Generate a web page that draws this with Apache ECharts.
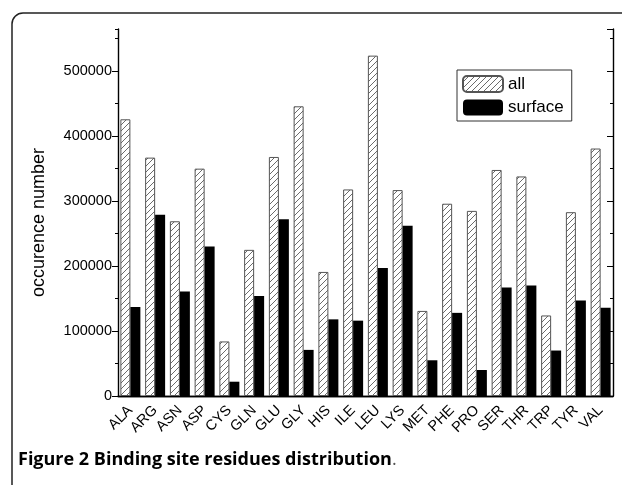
<!DOCTYPE html>
<html>
<head>
<meta charset="utf-8">
<script src="https://cdn.jsdelivr.net/npm/echarts@6/dist/echarts.min.js"></script>
<style>
html,body{margin:0;padding:0;background:#fff;}
#c{width:622px;height:485px;}
</style>
</head>
<body>
<div id="c"></div>
<script>
const categories = ['ALA','ARG','ASN','ASP','CYS','GLN','GLU','GLY','HIS','ILE','LEU','LYS','MET','PHE','PRO','SER','THR','TRP','TYR','VAL'];
const allValues = [426000,367000,269000,350000,84000,225000,368000,446000,191000,318000,524000,317000,131000,296000,285000,348000,338000,124000,283000,381000];
const surfaceValues = [137000,279000,161000,230000,22000,154000,272000,71000,118000,116000,197000,262000,55000,128000,40000,167000,170000,70000,147000,136000];
const yMin = 0, yMax = 565000;
const captionBold = 'Figure 2 Binding site residues distribution';

const pc = document.createElement('canvas');
pc.width = 6; pc.height = 6;
const g = pc.getContext('2d');
g.fillStyle = '#fff'; g.fillRect(0,0,6,6);
g.strokeStyle = '#5a5a5a'; g.lineWidth = 0.9;
g.beginPath();
g.moveTo(-1,7); g.lineTo(7,-1);
g.moveTo(-1,1); g.lineTo(1,-1);
g.moveTo(5,7); g.lineTo(7,5);
g.stroke();

const chart = echarts.init(document.getElementById('c'), null, {renderer:'canvas'});
const font = 'Liberation Sans, Arial, sans-serif';
const gridBox = {left:118, right:9, top:29, bottom:89, containLabel:false};
const axLine = {show:true, lineStyle:{color:'#000', width:1.4}};
const hidden = {show:false};

chart.setOption({
  animation:false,
  backgroundColor:'#fff',
  grid:[Object.assign({}, gridBox), Object.assign({}, gridBox)],
  legend:{
    left:457, top:70, orient:'vertical', itemWidth:40, itemHeight:16, itemGap:6,
    padding:[5,8,5,5], borderColor:'#333', borderWidth:1,
    textStyle:{fontFamily:font, fontSize:17, color:'#000'},
    data:['all','surface']
  },
  xAxis:[
    {type:'category', gridIndex:0, position:'bottom', data:categories,
     axisLine:axLine, axisTick:{alignWithLabel:true, length:6, lineStyle:{color:'#000'}},
     axisLabel:{rotate:45, fontFamily:font, fontSize:14.5, color:'#000', margin:12, interval:0},
     splitLine:hidden},
    {type:'category', gridIndex:0, position:'top', data:categories,
     axisLine:axLine, axisTick:{alignWithLabel:true, inside:true, length:6, lineStyle:{color:'#000'}},
     axisLabel:hidden, splitLine:hidden},
    {type:'category', gridIndex:1, position:'bottom', data:categories,
     axisLine:hidden, axisTick:{length:3, lineStyle:{color:'#000'}},
     axisLabel:hidden, splitLine:hidden},
    {type:'category', gridIndex:1, position:'top', data:categories,
     axisLine:hidden, axisTick:{inside:true, length:3, lineStyle:{color:'#000'}},
     axisLabel:hidden, splitLine:hidden}
  ],
  yAxis:[
    {type:'value', gridIndex:0, position:'left', min:yMin, max:yMax, interval:100000,
     axisLine:axLine, axisTick:{show:true, length:6, lineStyle:{color:'#000'}},
     axisLabel:{fontFamily:font, fontSize:14.5, color:'#000', margin:6, showMaxLabel:false,
       formatter:function(v){return String(v);}},
     splitLine:hidden,
     name:'occurence number', nameLocation:'middle', nameGap:70, nameRotate:90,
     nameTextStyle:{fontFamily:font, fontSize:18, color:'#000', padding:[0,0,0,-20]}},
    {type:'value', gridIndex:0, position:'right', min:yMin, max:yMax, interval:100000,
     axisLine:axLine, axisTick:{show:true, inside:true, length:6, lineStyle:{color:'#000'}},
     axisLabel:hidden, splitLine:hidden},
    {type:'value', gridIndex:1, position:'left', min:yMin, max:yMax, interval:50000,
     axisLine:hidden, axisTick:{show:true, length:3, lineStyle:{color:'#000'}},
     axisLabel:hidden, splitLine:hidden},
    {type:'value', gridIndex:1, position:'right', min:yMin, max:yMax, interval:50000,
     axisLine:hidden, axisTick:{show:true, inside:true, length:3, lineStyle:{color:'#000'}},
     axisLabel:hidden, splitLine:hidden}
  ],
  series:[
    {name:'all', type:'bar', xAxisIndex:0, yAxisIndex:0, data:allValues,
     barWidth:10, barGap:'0%',
     itemStyle:{color:{image:pc, repeat:'repeat'}, borderColor:'#555', borderWidth:1}},
    {name:'surface', type:'bar', xAxisIndex:0, yAxisIndex:0, data:surfaceValues,
     barWidth:10, barGap:'0%',
     itemStyle:{color:'#000', borderColor:'#000', borderWidth:0}}
  ],
  graphic:[
    {type:'rect', shape:{x:12, y:13, width:900, height:900, r:11},
     style:{fill:'none', stroke:'#222', lineWidth:1.5}, silent:true},
    {type:'text', x:18, y:451,
     style:{text:'{b|' + captionBold + '}{n|.}',
       rich:{
         b:{fontFamily:'Open Sans, Noto Sans, sans-serif', fontWeight:'bold', fontSize:18, fill:'#000'},
         n:{fontFamily:'Open Sans, Noto Sans, sans-serif', fontWeight:'normal', fontSize:18, fill:'#555'}
       }}}
  ]
});
</script>
</body>
</html>
